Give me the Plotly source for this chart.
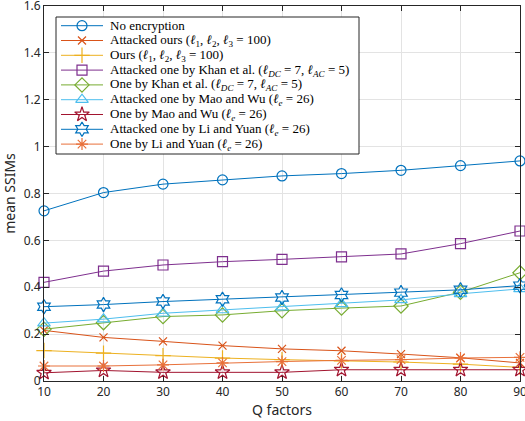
import plotly.graph_objects as go

q = [10, 20, 30, 40, 50, 60, 70, 80, 90]

no_enc = [0.726, 0.804, 0.840, 0.858, 0.875, 0.885, 0.899, 0.919, 0.939]
att_ours = [0.216, 0.186, 0.169, 0.151, 0.137, 0.129, 0.115, 0.099, 0.077]
ours = [0.130, 0.119, 0.108, 0.098, 0.091, 0.086, 0.081, 0.072, 0.058]
att_khan = [0.421, 0.469, 0.495, 0.509, 0.519, 0.530, 0.542, 0.586, 0.640]
khan = [0.221, 0.249, 0.275, 0.282, 0.300, 0.311, 0.320, 0.379, 0.462]
att_mao = [0.247, 0.264, 0.289, 0.303, 0.315, 0.329, 0.346, 0.372, 0.393]
mao = [0.035, 0.045, 0.037, 0.037, 0.037, 0.048, 0.048, 0.048, 0.048]
att_li = [0.317, 0.326, 0.339, 0.349, 0.356, 0.367, 0.377, 0.389, 0.407]
li = [0.064, 0.064, 0.069, 0.077, 0.083, 0.088, 0.091, 0.098, 0.101]

y_ticks = [0, 0.2, 0.4, 0.6, 0.8, 1.0, 1.2, 1.4, 1.6]
y_tick_text = ["0", "0.2", "0.4", "0.6", "0.8", "1", "1.2", "1.4", "1.6"]

L = "<i>ℓ</i>"
names = [
    "No encryption",
    f"Attacked ours ({L}<sub>1</sub>, {L}<sub>2</sub>, {L}<sub>3</sub> = 100)",
    f"Ours ({L}<sub>1</sub>, {L}<sub>2</sub>, {L}<sub>3</sub> = 100)",
    f"Attacked one by Khan et al. ({L}<sub><i>DC</i></sub> = 7, {L}<sub><i>AC</i></sub> = 5)",
    f"One by Khan et al. ({L}<sub><i>DC</i></sub> = 7, {L}<sub><i>AC</i></sub> = 5)",
    f"Attacked one by Mao and Wu ({L}<sub><i>e</i></sub> = 26)",
    f"One by Mao and Wu ({L}<sub><i>e</i></sub> = 26)",
    f"Attacked one by Li and Yuan ({L}<sub><i>e</i></sub> = 26)",
    f"One by Li and Yuan ({L}<sub><i>e</i></sub> = 26)",
]
series = [no_enc, att_ours, ours, att_khan, khan, att_mao, mao, att_li, li]
colors = ["#0072BD", "#D95319", "#EDB120", "#7E2F8E", "#77AC30",
          "#4DBEEE", "#A2142F", "#0072BD", "#E8703A"]
symbols = ["circle-open", "x-thin-open", "cross-thin-open", "square-open",
           "diamond-open", "triangle-up-open", "star-open", "hexagram-open",
           "asterisk-open"]
sizes = [10, 8, 11, 10, 11, 11, 11, 11, 10]

fig = go.Figure()
for nm, ys, c, s, sz in zip(names, series, colors, symbols, sizes):
    fig.add_trace(go.Scatter(
        x=q, y=ys, name=nm, mode="lines+markers", showlegend=False,
        line=dict(color=c, width=1), cliponaxis=False,
        marker=dict(symbol=s, size=sz, color=c, line=dict(color=c, width=1.2)),
    ))

# ---- legend drawn on an overlay axis measured in pixels ----
LX0, LX1, LY0, LY1 = 56, 359, 17, 154   # legend box (px)
PX0, PX1, PY0, PY1 = 44, 520, 6, 381    # plot area (px)
fig.add_trace(go.Scatter(
    x=[LX0, LX1, LX1, LX0, LX0], y=[LY0, LY0, LY1, LY1, LY0],
    xaxis="x2", yaxis="y2", mode="lines", fill="toself", fillcolor="white",
    line=dict(color="#262626", width=1), showlegend=False, hoverinfo="skip"))
row0, rowstep = 25.7, 14.8
for i, (nm, c, s, sz) in enumerate(zip(names, colors, symbols, sizes)):
    yy = row0 + rowstep * i
    fig.add_trace(go.Scatter(
        x=[61, 103], y=[yy, yy], xaxis="x2", yaxis="y2", mode="lines",
        line=dict(color=c, width=1), showlegend=False, hoverinfo="skip"))
    fig.add_trace(go.Scatter(
        x=[82], y=[yy], xaxis="x2", yaxis="y2", mode="markers",
        marker=dict(symbol=s, size=sz, color=c, line=dict(color=c, width=1.2)),
        showlegend=False, hoverinfo="skip"))
    fig.add_annotation(x=108, y=yy, xref="x2", yref="y2", text=nm,
                       showarrow=False, xanchor="left", yanchor="middle",
                       font=dict(family="Liberation Serif", size=13, color="black"))

axis_common = dict(
    showline=True, linecolor="#262626", linewidth=1, mirror="ticks",
    ticks="inside", ticklen=5, tickcolor="#262626",
    showgrid=True, gridcolor="#E3E3E3", gridwidth=1, zeroline=False,
    automargin=False, ticklabeloverflow="allow",
    tickfont=dict(family="Noto Sans", size=12, color="#262626"),
)
fig.update_layout(
    xaxis=dict(range=[10, 90], tickvals=q, **axis_common,
               title=dict(text="Q factors", font=dict(family="Noto Sans", size=14, color="#262626"), standoff=2)),
    yaxis=dict(range=[0, 1.6], tickvals=y_ticks, ticktext=y_tick_text,
               **axis_common,
               title=dict(text="mean SSIMs", font=dict(family="Noto Sans", size=14, color="#262626"), standoff=4)),
    xaxis2=dict(overlaying="x", range=[PX0, PX1], visible=False, fixedrange=True),
    yaxis2=dict(overlaying="y", range=[PY1, PY0], visible=False, fixedrange=True),
    width=525, height=421,
    margin=dict(l=PX0, r=525 - PX1, t=PY0, b=421 - PY1),
    plot_bgcolor="white", paper_bgcolor="white",
    showlegend=False,
)

fig.write_html("out.html", config={"displayModeBar": False},
               post_script="document.body.style.margin='0';document.body.style.padding='0';")
